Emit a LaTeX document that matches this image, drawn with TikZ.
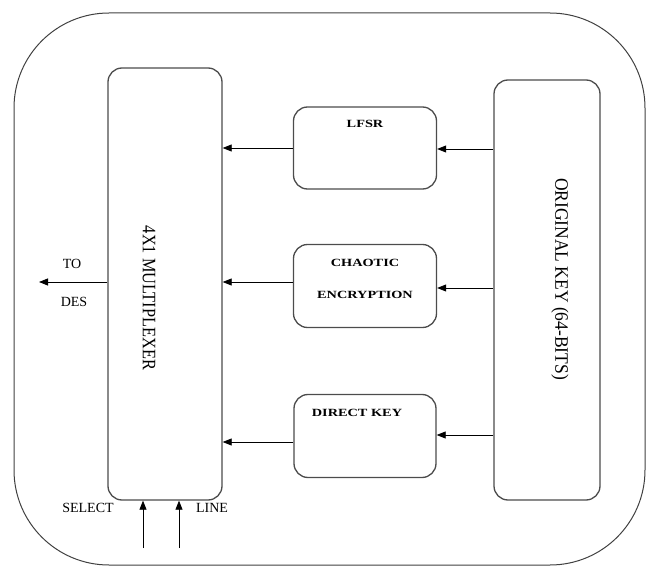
\documentclass[tikz,border=0pt]{standalone}
\usepackage{fontspec}
\setmainfont{Liberation Serif}
\usetikzlibrary{arrows.meta}
\begin{document}
\begin{tikzpicture}[x=1pt,y=1pt,
  blk/.style={draw=black!70,line width=1.3pt,rounded corners=14pt},
  arr/.style={-{Triangle[length=9pt,width=7pt]},line width=0.8pt},
  lbl/.style={font=\fontsize{14}{16}\selectfont,inner sep=0pt},
  btxt/.style={font=\fontsize{11}{13}\selectfont\bfseries,inner sep=0pt,xscale=1.3}]
\useasboundingbox (0,0) rectangle (649,566);
\draw[black!75,line width=1pt,rounded corners=95pt] (14,1) rectangle (645,553);
% multiplexer
\node[blk,minimum width=114pt,minimum height=432pt] (mux) at (165,282) {};
\node[lbl,rotate=-90] (muxt) at (149,268) {\scalebox{0.86}[1]{\fontsize{19}{21}\selectfont 4X1 MULTIPLEXER}};
% original key
\node[blk,minimum width=106pt,minimum height=420pt] (key) at (547,276) {};
\node[lbl,rotate=-90] (keyt) at (560,287) {\scalebox{0.92}[1]{\fontsize{19}{21}\selectfont ORIGINAL KEY (64-BITS)}};
% middle boxes
\node[blk,minimum width=143pt,minimum height=82pt] (lfsr) at (365,418) {};
\node[btxt,transform shape] (lfsrt) at (365,442) {LFSR};
\node[blk,minimum width=143pt,minimum height=83pt] (cha) at (365,280) {};
\node[btxt,transform shape] (chat1) at (365,303) {CHAOTIC};
\node[btxt,transform shape] (chat2) at (365,271) {ENCRYPTION};
\node[blk,minimum width=142pt,minimum height=83pt] (dir) at (365,130) {};
\node[btxt,transform shape] (dirt) at (357,153) {DIRECT KEY};
% connectors middle -> mux
\draw[arr] (lfsr.west |- 0,418) coordinate (a1) -- (mux.east |- a1);
\draw[arr] (cha.west |- 0,284) coordinate (a2) -- (mux.east |- a2);
\draw[arr] (dir.west |- 0,124) coordinate (a3) -- (mux.east |- a3);
% key -> middle
\draw[arr] (key.west |- 0,417) coordinate (b1) -- (lfsr.east |- b1);
\draw[arr] (key.west |- 0,278) coordinate (b2) -- (cha.east |- b2);
\draw[arr] (key.west |- 0,131) coordinate (b3) -- (dir.east |- b3);
% to DES
\coordinate (des) at (39,284);
\draw[arr] (mux.west |- des) -- (des);
\node[lbl] (to) at (72,302) {TO};
\node[lbl] (dest) at (74,264) {DES};
% select line
\coordinate (s1) at (143,18);
\coordinate (s2) at (179,18);
\draw[arr] (s1) -- (s1 |- mux.south);
\draw[arr] (s2) -- (s2 |- mux.south);
\node[lbl] (sel) at (88,58) {SELECT};
\node[lbl] (line) at (212,58) {LINE};
\end{tikzpicture}
\end{document}
